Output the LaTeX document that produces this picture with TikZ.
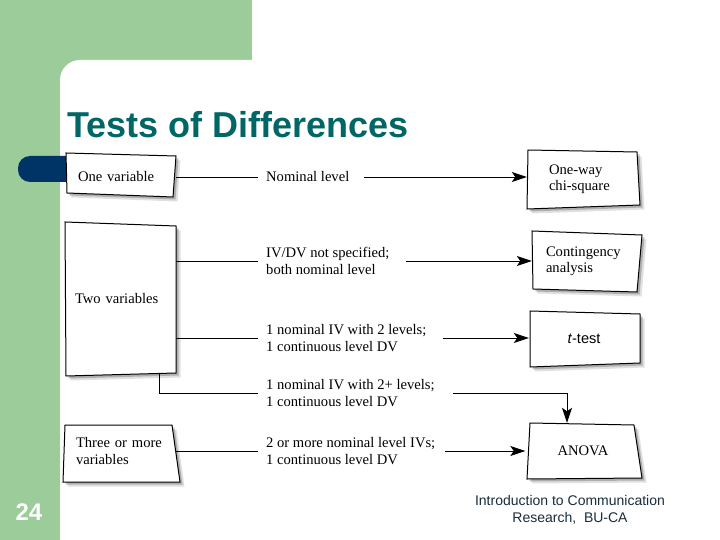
\documentclass[tikz,border=0pt]{standalone}
\usepackage{fontspec}
\setmainfont{Liberation Serif}
\newfontfamily\arialfont{Liberation Sans}
\usetikzlibrary{arrows.meta,calc}
\definecolor{bggreen}{RGB}{155,204,153}
\definecolor{pillblue}{RGB}{0,51,102}
\definecolor{titleteal}{RGB}{0,102,102}
\definecolor{footgray}{RGB}{25,45,60}
\tikzset{
 boxnode/.style={draw=none, rectangle, font=\fontsize{14.6}{16.5}\selectfont},
 outline/.style={draw=black, line width=1pt, fill=white},
 lab/.style={anchor=west, inner xsep=8pt, inner ysep=0pt, align=left, font=\fontsize{14.6}{16.5}\selectfont},
 link/.style={line width=0.9pt},
 arr/.style={link, -{Stealth[length=15pt,width=10pt,inset=3.5pt]}},
}
\newcommand\slantbox[4]{%
 \fill[black,opacity=0.12,shift={(4.5,4.5)}] #1 -- #2 -- #3 -- #4 -- cycle;
 \fill[black,opacity=0.22,shift={(2.5,2.5)}] #1 -- #2 -- #3 -- #4 -- cycle;
 \draw[outline] #1 -- #2 -- #3 -- #4 -- cycle;}
\begin{document}
\begin{tikzpicture}[x=1pt,y=-1pt]
\useasboundingbox (0,0) rectangle (720,540);
% background
\fill[bggreen] (0,0) rectangle (720,540);
\fill[white, rounded corners=20pt] (60,60) rectangle (780,600);
\fill[white] (252,0) rectangle (720,70);
\fill[pillblue, rounded corners=12pt] (18,156) rectangle (90,182);
% title, page number, footer
\node[anchor=base west, inner sep=0pt, font=\arialfont\bfseries\fontsize{36}{40}\selectfont, text=titleteal] (title) at (67,138) {Tests of Differences};
\node[font=\arialfont\bfseries\fontsize{24}{28}\selectfont, text=white] (pg) at (29,512) {24};
\node[align=center, font=\arialfont\fontsize{14}{17.5}\selectfont, text=footgray] (foot) at (570,510) {Introduction to Communication\\Research,\ \ BU-CA};
% box outlines
\slantbox{(66,153)}{(176,156)}{(173,197)}{(67,193)}
\slantbox{(528,150)}{(637,152)}{(640,205)}{(527,209)}
\slantbox{(532,231)}{(642,235)}{(637,292)}{(533,289)}
\slantbox{(65,222)}{(176,226)}{(176,373)}{(66,376)}
\slantbox{(530,311)}{(640,314)}{(640,363)}{(530,367)}
\slantbox{(530,423)}{(634,425)}{(642,478)}{(527,479)}
\slantbox{(65,425)}{(172,425)}{(180,482)}{(63,482)}
% box nodes
\node[boxnode, minimum width=110pt, minimum height=40pt, text width=86pt, inner xsep=12pt, align=left] (one) at (121,177) {One variable};
\node[boxnode, minimum width=113pt, minimum height=55pt, text width=69pt, inner xsep=22pt, align=left] (chi) at (583.5,179) {One-way\\chi-square};
\node[boxnode, minimum width=110pt, minimum height=58pt, text width=82pt, inner xsep=14pt, align=left] (cont) at (587,261) {Contingency\\analysis};
\node[boxnode, minimum width=111pt, minimum height=150pt, text width=91pt, inner xsep=10pt, align=left] (two) at (120.5,299) {Two variables};
\node[boxnode, minimum width=110pt, minimum height=54pt, text width=110pt, inner xsep=0pt, align=center] (ttest) at (584,339) {\arialfont\textit{t}-test};
\node[boxnode, minimum width=115pt, minimum height=56pt, text width=115pt, inner xsep=0pt, align=center] (anova) at (583,451) {ANOVA};
\node[boxnode, minimum width=112pt, minimum height=57pt, text width=88pt, inner xsep=12pt, align=left] (three) at (120,451) {Three or more\\variables};
% labels
\node[lab] (nom) at (258,177) {Nominal level};
\node[lab] (ivdv) at (258,261) {IV/DV not specified;\\both nominal level};
\node[lab] (twolev) at (258,338) {1 nominal IV with 2 levels;\\1 continuous level DV};
\node[lab] (twoplus) at (258,393) {1 nominal IV with 2+ levels;\\1 continuous level DV};
\node[lab] (more) at (258,451) {2 or more nominal level IVs;\\1 continuous level DV};
% connectors
\draw[link] (one.east) -- (nom.west);
\draw[arr] ([xshift=6pt]nom.east) -- (chi.west |- nom.east);
\draw[link] (two.east |- ivdv.west) -- (ivdv.west);
\draw[arr] ([xshift=8pt]ivdv.east) -- (cont.west |- ivdv.east);
\draw[link] (two.east |- twolev.west) -- (twolev.west);
\draw[arr] ([xshift=8pt]twolev.east) -- (ttest.west |- twolev.east);
\draw[link] ([xshift=38.5pt]two.south) |- (twoplus.west);
\coordinate (bend) at (567,393);
\draw[arr] ([xshift=10pt]twoplus.east) -- (bend) -- (bend |- anova.north);
\draw[link] (three.east |- more.west) -- (more.west);
\draw[arr] ([xshift=2pt]more.east) -- (anova.west |- more.east);
\end{tikzpicture}
\end{document}
